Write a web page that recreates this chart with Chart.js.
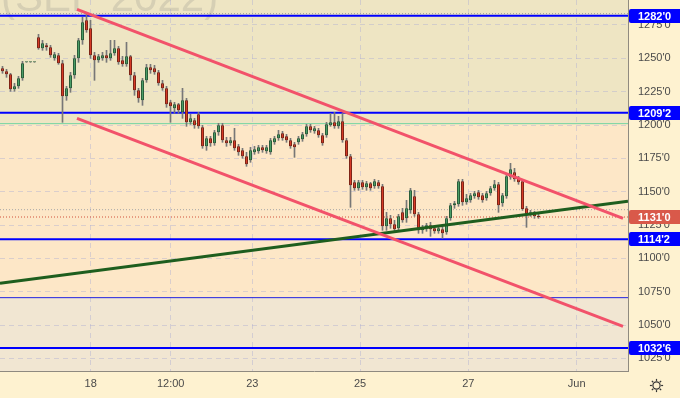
<!DOCTYPE html>
<html><head><meta charset="utf-8">
<script src="https://cdn.jsdelivr.net/npm/chart.js@4.4.1/dist/chart.umd.min.js"></script>
<style>html,body{margin:0;padding:0;background:#FEF2D0;}#wrap{width:680px;height:398px;position:relative;}</style>
</head><body><div id="wrap"><canvas id="c"></canvas></div>
<script>
// ---- data ----
const opens = [1242.5,1240.25,1238,1226.75,1229,1235,1247,1247,1247,1265.75,1257.5,1259.75,1258.25,1250,1252.25,1246.25,1221.5,1227.5,1237.25,1250,1263.5,1278.5,1272.5,1252.25,1248.5,1250,1252.25,1250,1253.75,1257.5,1248.5,1245.5,1251.5,1237.25,1226,1218.5,1233.5,1243.25,1242.5,1239.5,1231.25,1227.5,1217,1212.5,1215.5,1209.5,1218.5,1202,1203.5,1208,1198.25,1184,1190,1186.25,1194.5,1199.75,1188.5,1186.25,1188.5,1184,1181,1176.5,1173.5,1179.5,1180.25,1183.25,1180.25,1179.5,1187,1190,1193.75,1191.5,1188.5,1185.5,1187,1189.25,1193,1199,1195.25,1196,1192.25,1192.25,1199.75,1202,1199,1202.75,1188.5,1176.5,1157,1152.5,1157,1153.25,1156.25,1154,1157,1154,1124,1130,1125.5,1122.5,1134.5,1130,1136,1146.5,1133,1121,1122.5,1124.75,1122.5,1120.25,1121.75,1119.5,1130,1139.75,1140.5,1157.75,1142,1143.5,1146.5,1149.5,1147.25,1145,1148.75,1152.5,1155.5,1141.25,1146.5,1160.75,1164.5,1160,1157.75,1137.5,1133,1134.5,1131.5];
const highs = [1244,1241.75,1238.75,1231.25,1236.5,1247.75,1247,1247,1247,1268,1263.5,1261.25,1259.75,1254.5,1253.75,1248.5,1229,1239.5,1252.25,1265,1280.75,1283,1278.5,1254.5,1253,1254.5,1256,1263.5,1263.5,1259,1251.5,1262,1252.25,1239.5,1227.5,1235,1245.5,1245.5,1244.75,1241,1233.5,1229,1218.5,1217,1216.25,1227.5,1220,1208,1205,1209.5,1199.75,1191.5,1191.5,1196,1201.25,1201.25,1190.75,1190.75,1197.5,1185.5,1182.5,1179.5,1183.25,1184,1184.75,1184.75,1184.75,1190,1191.5,1196,1195.25,1193,1190,1187,1191.5,1194.5,1200.5,1200.5,1199,1197.5,1193.75,1202,1208.75,1209.5,1206.5,1208.75,1190,1178,1158.5,1158.5,1158.5,1157.75,1157,1159.25,1158.5,1155.5,1134.5,1132.25,1128.5,1133,1137.5,1143.5,1152.5,1151,1134.5,1124.75,1126.25,1127,1124,1124,1123.25,1131.5,1141.25,1142.75,1159.25,1159.25,1148,1148.75,1150.25,1151,1148.75,1150.25,1154,1158.5,1157,1148.75,1163,1171.25,1167.5,1161.5,1158.5,1139,1136,1135.25,1133];
const lows = [1238.75,1235.75,1225.25,1225.25,1227.5,1233.5,1247,1247,1247,1256.75,1256,1256,1250.75,1248.5,1245.5,1202,1218.5,1224.5,1235,1247,1260.5,1269.5,1250,1233.5,1247,1248.5,1247,1248.5,1252.25,1245.5,1244,1244,1233.5,1222.25,1217,1214.75,1232,1238.75,1238,1229.75,1226,1213.25,1202,1208.75,1208.75,1205,1199,1200.5,1197.5,1197.5,1182.5,1181,1184,1184.75,1192.25,1187,1184,1184.75,1181,1177.25,1175,1169,1172,1178,1178.75,1179.5,1178.75,1178,1185.5,1188.5,1188.5,1187,1182.5,1175.75,1185.5,1187.75,1191.5,1194.5,1193.75,1190.75,1184.75,1190.75,1199,1197.5,1197.5,1187,1175,1138.25,1151,1151,1151.75,1151,1151,1152.5,1152.5,1121,1121,1122.5,1119.5,1121,1127,1127,1133.75,1131.5,1118.75,1118.75,1120.25,1116.5,1118.75,1118.75,1115,1118,1128.5,1137.5,1139,1139.75,1140.5,1142,1145,1144.25,1142,1143.5,1147.25,1151,1134.5,1139,1145,1159.25,1157.75,1155.5,1136,1123.25,1131.5,1130,1130];
const closes = [1240.25,1238,1226.75,1229,1235,1246.25,1247,1247,1247,1257.5,1261.25,1258.25,1252.25,1253,1246.25,1221.5,1227.5,1237.25,1250,1263.5,1277,1271,1252.25,1248.5,1251.5,1252.25,1250,1253.75,1257.5,1247,1245.5,1251.5,1237.25,1226,1220,1233.5,1243.25,1241,1239.5,1231.25,1227.5,1215.5,1214,1215.5,1211,1218.5,1202,1205,1199.75,1199,1184,1190,1186.25,1194.5,1199.75,1188.5,1186.25,1188.5,1182.5,1179.5,1176.5,1170.5,1181,1181.75,1183.25,1181,1183.25,1188.5,1190,1193,1190,1188.5,1184,1183.25,1190,1193,1199,1196,1197.5,1192.25,1186.25,1200.5,1202,1199,1202.75,1188.5,1176.5,1154.75,1152.5,1157,1153.25,1156.25,1152.5,1157.75,1154,1124,1130,1125.5,1121.75,1131.5,1128.5,1137.5,1151,1133,1121,1123.25,1124.75,1121.75,1120.25,1122.5,1118.75,1130,1139.75,1141.25,1157.75,1142,1145,1147.25,1148.75,1145.75,1143.5,1148.75,1152.5,1155.5,1139.75,1147.25,1161.5,1166.75,1159.25,1157,1137,1133,1134.5,1131.5,1131];

const xTickPositions = [22.05, 42.05, 62.45, 89.375, 116.45, 143.55];
const xTickLabels = ['18', '12:00', '23', '25', '27', 'Jun'];
const yTickValues = [1025, 1050, 1075, 1100, 1125, 1150, 1175, 1200, 1225, 1250, 1275];

const upperChannel = [{x: 18.625, y: 1286.75}, {x: 155.125, y: 1130}];
const lowerChannel = [{x: 18.625, y: 1205}, {x: 155.125, y: 1049}];
const supportLine = [{x: -0.625, y: 1081.25}, {x: 156.375, y: 1142.75}];

const levelValues = [1283.5, 1282, 1209.25, 1201, 1136.5, 1131, 1114.25, 1070.5, 1032.75];
const priceTagValues = [1282, 1209.25, 1131, 1114.25, 1032.75];
const priceTagTexts = ["1282'0", "1209'2", "1131'0", "1114'2", "1032'6"];
const zoneBounds = [1201, 1070.5];
const watermarkText = '(SEP 2022)';

// ---- styles ----
const X_MIN = -0.625, X_MAX = 156.375, Y_MIN = 1015.5, Y_MAX = 1293.75;
const levelStyles = [
  {color: '#9a9a9a', width: 1, dash: [1, 2]},
  {color: '#0000FF', width: 2, dash: []},
  {color: '#0000FF', width: 2, dash: []},
  {color: '#6FD3A0', width: 1, dash: []},
  {color: '#a8a8a8', width: 1, dash: [1, 2]},
  {color: '#D0503A', width: 1, dash: [1, 2]},
  {color: '#0000FF', width: 2, dash: []},
  {color: '#2020E0', width: 1, dash: []},
  {color: '#0000FF', width: 2, dash: []}
];
const tagColors = ['#0000FF', '#0000FF', '#D9594A', '#0000FF', '#0000FF'];
const zoneColors = ['#EEE5C3', '#FDE7C7', '#F1E6D2'];
const FONT = "'Liberation Sans', Arial, sans-serif";

const isUp = closes.map((c, i) => c >= opens[i]);
const bodyFill = isUp.map(u => u ? '#4A9D66' : '#D63A26');
const bodyEdge = isUp.map(u => u ? '#2A5E3A' : '#7E2416');

const datasets = [];
levelValues.forEach((v, i) => {
  datasets.push({
    type: 'line', data: [{x: X_MIN, y: v}, {x: X_MAX, y: v}],
    borderColor: levelStyles[i].color, borderWidth: levelStyles[i].width,
    borderDash: levelStyles[i].dash, pointRadius: 0, fill: false, order: 10
  });
});
datasets.push({
  type: 'bar', data: lows.map((l, i) => ({x: i, y: [l, highs[i]]})),
  backgroundColor: '#777777', barThickness: 1, grouped: false, order: 6
});
datasets.push({
  type: 'bar', data: opens.map((o, i) => ({x: i, y: [o, closes[i]]})),
  backgroundColor: bodyFill, borderColor: bodyEdge, borderWidth: 1, borderSkipped: false,
  barPercentage: 0.75, categoryPercentage: 1, grouped: false, minBarLength: 1, order: 5
});
[upperChannel, lowerChannel].forEach(d => datasets.push({
  type: 'line', data: d, borderColor: '#F2526A', borderWidth: 3, pointRadius: 0, fill: false, order: 1
}));
datasets.push({type: 'line', data: supportLine, borderColor: '#1E5E1E', borderWidth: 3, pointRadius: 0, fill: false, order: 1});

const paint = {
  id: 'paint',
  beforeDraw(chart) {
    const {ctx, chartArea: a, scales: {y}} = chart;
    ctx.save();
    ctx.fillStyle = '#FEF2D0';
    ctx.fillRect(0, 0, chart.width, chart.height);
    const p1 = y.getPixelForValue(zoneBounds[0]), p2 = y.getPixelForValue(zoneBounds[1]);
    ctx.fillStyle = zoneColors[0]; ctx.fillRect(a.left, a.top, a.width, p1 - a.top);
    ctx.fillStyle = zoneColors[1]; ctx.fillRect(a.left, p1, a.width, p2 - p1);
    ctx.fillStyle = zoneColors[2]; ctx.fillRect(a.left, p2, a.width, a.bottom - p2);
    ctx.restore();
  },
  beforeDatasetsDraw(chart) {
    const {ctx, chartArea: a} = chart;
    ctx.save();
    ctx.beginPath(); ctx.rect(a.left, a.top, a.width, a.height); ctx.clip();
    ctx.font = '42px ' + FONT;
    ctx.fillStyle = 'rgba(120,120,120,0.2)';
    ctx.textBaseline = 'alphabetic';
    ctx.fillText(watermarkText, 1, 11);
    ctx.restore();
  },
  afterDraw(chart) {
    const {ctx, scales: {y}} = chart;
    ctx.save();
    priceTagValues.forEach((v, i) => {
      const py = Math.round(y.getPixelForValue(v));
      ctx.fillStyle = tagColors[i];
      ctx.beginPath();
      ctx.roundRect(629, py - 7, 51, 14, [2, 0, 0, 2]);
      ctx.fill();
      ctx.fillStyle = '#FFFFFF';
      ctx.font = 'bold 11px ' + FONT;
      ctx.textBaseline = 'middle';
      ctx.textAlign = 'left';
      ctx.fillText(priceTagTexts[i], 638, py + 0.5);
    });
    // settings icon
    const cx = 656.5, cy = 385.5;
    ctx.strokeStyle = '#333'; ctx.lineWidth = 1.2;
    ctx.beginPath(); ctx.arc(cx, cy, 3.6, 0, Math.PI * 2); ctx.stroke();
    for (let k = 0; k < 8; k++) {
      const an = k * Math.PI / 4;
      ctx.beginPath();
      ctx.moveTo(cx + Math.cos(an) * 4.6, cy + Math.sin(an) * 4.6);
      ctx.lineTo(cx + Math.cos(an) * 6.6, cy + Math.sin(an) * 6.6);
      ctx.stroke();
    }
    ctx.restore();
  }
};

new Chart(document.getElementById('c'), {
  type: 'bar',
  data: {datasets},
  options: {
    responsive: true, maintainAspectRatio: false, animation: false, devicePixelRatio: 1,
    layout: {padding: 0},
    plugins: {legend: {display: false}, tooltip: {enabled: false}},
    events: [],
    scales: {
      x: {
        type: 'linear', min: X_MIN, max: X_MAX, offset: false, position: 'bottom',
        afterBuildTicks: s => { s.ticks = xTickPositions.map(v => ({value: v})); },
        afterFit: s => { s.height = 27; s.paddingLeft = 0; s.paddingRight = 0; },
        ticks: {autoSkip: false, maxRotation: 0, padding: 6, color: '#4a4a4a', font: {size: 11, family: FONT},
          callback: (v, i) => xTickLabels[i]},
        grid: {offset: false, drawTicks: false, color: 'rgba(175,175,210,0.45)', lineWidth: 1},
        border: {display: true, color: '#8f8a80', width: 1, dash: [5, 4]}
      },
      y: {
        type: 'linear', position: 'right', min: Y_MIN, max: Y_MAX, beginAtZero: false,
        afterBuildTicks: s => { s.ticks = yTickValues.map(v => ({value: v})); },
        afterFit: s => { s.width = 52; s.paddingTop = 0; s.paddingBottom = 0; },
        ticks: {padding: 10, color: '#4a4a4a', font: {size: 11, family: FONT},
          callback: v => v + "'0"},
        grid: {drawTicks: false, color: 'rgba(175,175,210,0.45)', lineWidth: 1},
        border: {display: true, color: '#8f8a80', width: 1, dash: [5, 4]}
      }
    }
  },
  plugins: [paint]
});
</script></body></html>
